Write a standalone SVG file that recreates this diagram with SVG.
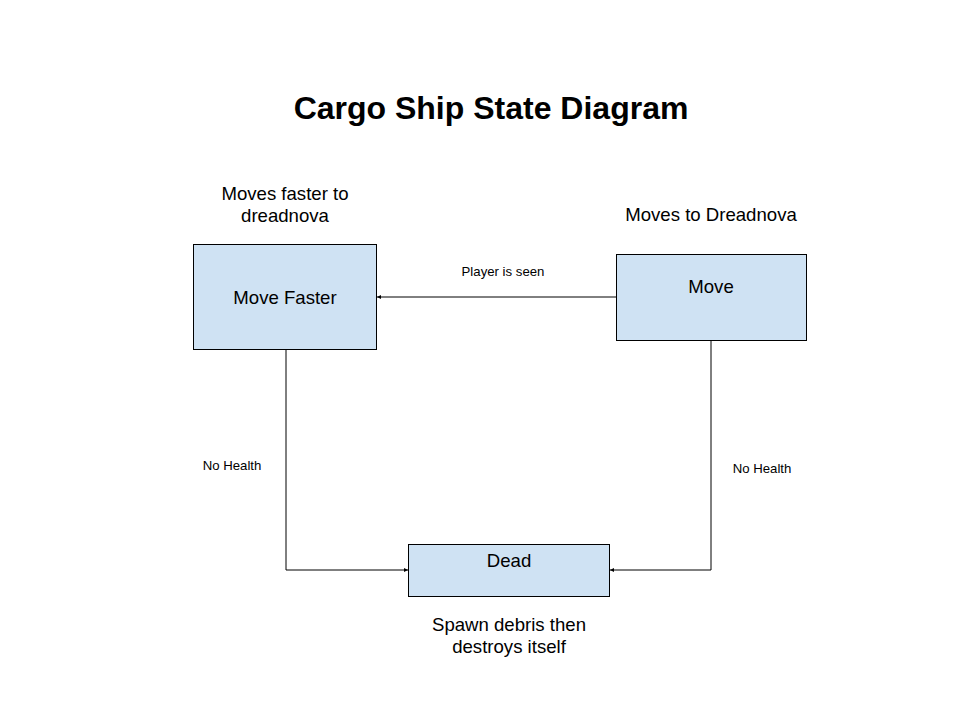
<svg xmlns="http://www.w3.org/2000/svg" width="960" height="720" viewBox="0 0 960 720">
<defs>
<marker id="ah" viewBox="0 0 10 10" refX="10" refY="5" markerWidth="4" markerHeight="4" orient="auto" markerUnits="userSpaceOnUse">
<path d="M0,0 L10,5 L0,10 z" fill="#000"/>
</marker>
<style>
.box{fill:#cfe2f3;stroke:#000;stroke-width:1}
.t{font-family:"Liberation Sans",Arial,sans-serif;fill:#000;text-anchor:middle}
.n{font-size:18.6px}
.s{font-size:13.2px}
.c{fill:none;stroke:#000;stroke-width:1;marker-end:url(#ah)}
</style>
</defs>
<rect width="960" height="720" fill="#fff"/>
<text class="t" x="491" y="119" font-size="32" font-weight="bold">Cargo Ship State Diagram</text>
<g id="connectors">
<path class="c" d="M616,297 L377,297"/>
<path class="c" d="M286,349 L286,570 L408,570"/>
<path class="c" d="M711,340 L711,570 L610,570"/>
<text class="t s" x="503" y="276">Player is seen</text>
<text class="t s" x="232" y="470">No Health</text>
<text class="t s" x="762" y="473">No Health</text>
</g>
<g id="move-faster">
<rect class="box" x="193.5" y="244.5" width="183" height="105"/>
<text class="t n" x="285" y="304">Move Faster</text>
<text class="t n" x="285" y="200">Moves faster to</text>
<text class="t n" x="285" y="222">dreadnova</text>
</g>
<g id="move">
<rect class="box" x="616.5" y="254.5" width="190" height="86"/>
<text class="t n" x="711" y="293">Move</text>
<text class="t n" x="711" y="221">Moves to Dreadnova</text>
</g>
<g id="dead">
<rect class="box" x="408.5" y="544.5" width="201" height="52"/>
<text class="t n" x="509" y="567">Dead</text>
<text class="t n" x="509" y="631">Spawn debris then</text>
<text class="t n" x="509" y="653">destroys itself</text>
</g>
</svg>
